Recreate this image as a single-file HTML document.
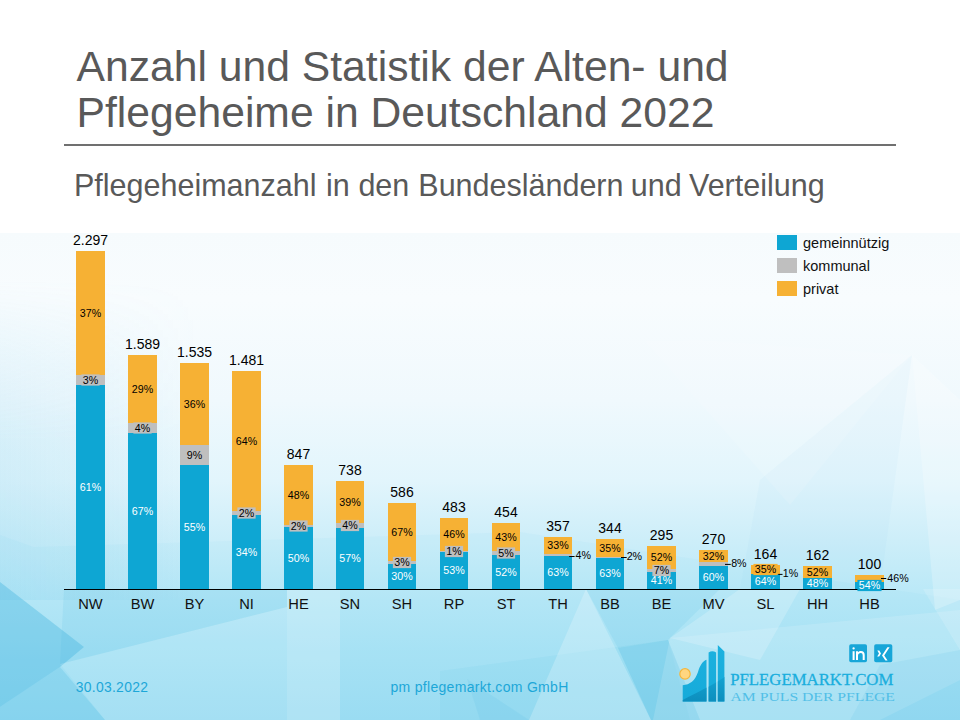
<!DOCTYPE html>
<html><head><meta charset="utf-8"><style>
html,body{margin:0;padding:0;}
body{width:960px;height:720px;overflow:hidden;position:relative;background:#fff;font-family:"Liberation Sans",sans-serif;}
svg{position:absolute;left:0;top:0;}
.tot{font-size:14px;text-anchor:middle;fill:#000;}
.cat{font-size:14.67px;text-anchor:middle;fill:#111;}
.pct{font-size:10.67px;text-anchor:middle;}
.leg{font-size:14.5px;fill:#111;}
.title{font-size:42.67px;fill:#595959;}
.sub{font-size:30.5px;fill:#595959;}
.foot{font-size:13.5px;fill:#1da7d8;}
</style></head><body>
<svg width="960" height="720" viewBox="0 0 960 720">
<defs>
<linearGradient id="bg" gradientUnits="userSpaceOnUse" x1="0" y1="232" x2="0" y2="720">
<stop offset="0" stop-color="#f6fbfd"/>
<stop offset="0.139" stop-color="#f8fcfe"/>
<stop offset="0.344" stop-color="#f0f9fd"/>
<stop offset="0.508" stop-color="#e2f5fc"/>
<stop offset="0.631" stop-color="#cdeef9"/>
<stop offset="0.754" stop-color="#b8e8f7"/>
<stop offset="0.877" stop-color="#a9e3f5"/>
<stop offset="1" stop-color="#9edef3"/>
</linearGradient>
</defs>
<rect x="0" y="0" width="960" height="720" fill="#fff"/>
<rect x="0" y="233" width="960" height="487" fill="url(#bg)"/>
<linearGradient id="lside" x1="0" y1="0" x2="1" y2="0"><stop offset="0" stop-color="#6cc6e8" stop-opacity="0.16"/><stop offset="1" stop-color="#6cc6e8" stop-opacity="0"/></linearGradient>
<linearGradient id="lsidev" x1="0" y1="0" x2="0" y2="1"><stop offset="0" stop-color="#fff" stop-opacity="0"/><stop offset="0.5" stop-color="#fff" stop-opacity="1"/><stop offset="1" stop-color="#fff" stop-opacity="1"/></linearGradient>
<mask id="lmask"><rect x="0" y="280" width="200" height="320" fill="url(#lsidev)"/></mask>
<rect x="0" y="280" width="200" height="320" fill="url(#lside)" mask="url(#lmask)"/>
<polygon points="0,582 84,647 60,667 0,707" fill="#3fb3de" fill-opacity="0.38"/>
<polygon points="0,707 60,667 105,720 0,720" fill="#3fb3de" fill-opacity="0.22"/>
<polygon points="34,547 520,532 960,600 960,720 0,720 0,535" fill="#6cc6e8" fill-opacity="0.06"/>
<polygon points="60,664 287,607 287,589 64,589" fill="#3fb3de" fill-opacity="0.12"/>
<polygon points="287,589 340,589 340,720 287,720" fill="#ffffff" fill-opacity="0.2"/>
<polygon points="60,664 287,607 287,720 105,720" fill="#ffffff" fill-opacity="0.1"/>
<polygon points="440,671 668,640 690,720 440,720" fill="#3fb3de" fill-opacity="0.07"/>
<polygon points="586,589 651,720 529,720" fill="#ffffff" fill-opacity="0.22"/>
<polygon points="618,648 668,640 700,720 651,720" fill="#3fb3de" fill-opacity="0.24"/>
<polygon points="586,589 720,589 668,640 618,648" fill="#3fb3de" fill-opacity="0.12"/>
<polygon points="467,679 529,720 480,720" fill="#3fb3de" fill-opacity="0.1"/>
<polygon points="670,638 740,589 800,589 760,660" fill="#ffffff" fill-opacity="0.2"/>
<polygon points="670,638 960,610 960,680 880,720 653,720" fill="#ffffff" fill-opacity="0.14"/>
<polygon points="880,665 960,650 960,720 850,720" fill="#3fb3de" fill-opacity="0.1"/>
<polygon points="923,589 960,589 960,650" fill="#ffffff" fill-opacity="0.15"/>
<polygon points="912,355 960,400 960,600 935,610" fill="#ffffff" fill-opacity="0.22"/>
<polygon points="912,355 760,480 740,589 880,589" fill="#6cc6e8" fill-opacity="0.05"/>
<polygon points="912,355 700,340 645,341 790,505" fill="#ffffff" fill-opacity="0.12"/>
<text x="76.5" y="80.6" class="title">Anzahl und Statistik der Alten- und</text>
<text x="76.5" y="126.9" class="title">Pflegeheime in Deutschland 2022</text>
<rect x="64" y="144" width="832" height="2" fill="#707070"/>
<g class="sub"><text x="74" y="195.7">Pflegeheimanzahl</text><text x="326" y="195.7">in</text><text x="358.4" y="195.7">den</text><text x="418.3" y="195.7">Bundesländern</text><text x="630.8" y="195.7">und</text><text x="689" y="195.7">Verteilung</text></g>
<rect x="777" y="235" width="20" height="15" fill="#0ea6d3"/>
<rect x="777" y="258" width="20" height="15" fill="#bfbfbf"/>
<rect x="777" y="281" width="20" height="15" fill="#f6b134"/>
<text x="803" y="247.7" class="leg">gemeinnützig</text>
<text x="803" y="270.7" class="leg">kommunal</text>
<text x="803" y="293.7" class="leg">privat</text>
<rect x="64" y="589" width="832" height="1" fill="#000"/>
<rect x="76" y="385" width="29" height="204" fill="#0ea6d3"/>
<rect x="76" y="375" width="29" height="10" fill="#bfbfbf"/>
<rect x="76" y="251" width="29" height="124" fill="#f6b134"/>
<rect x="128" y="433" width="29" height="156" fill="#0ea6d3"/>
<rect x="128" y="423" width="29" height="10" fill="#bfbfbf"/>
<rect x="128" y="355" width="29" height="68" fill="#f6b134"/>
<rect x="180" y="465" width="29" height="124" fill="#0ea6d3"/>
<rect x="180" y="445" width="29" height="20" fill="#bfbfbf"/>
<rect x="180" y="363" width="29" height="82" fill="#f6b134"/>
<rect x="232" y="515" width="29" height="74" fill="#0ea6d3"/>
<rect x="232" y="511" width="29" height="4" fill="#bfbfbf"/>
<rect x="232" y="371" width="29" height="140" fill="#f6b134"/>
<rect x="284" y="527" width="29" height="62" fill="#0ea6d3"/>
<rect x="284" y="525" width="29" height="2" fill="#bfbfbf"/>
<rect x="284" y="465" width="29" height="60" fill="#f6b134"/>
<rect x="336" y="528" width="28" height="61" fill="#0ea6d3"/>
<rect x="336" y="523" width="28" height="5" fill="#bfbfbf"/>
<rect x="336" y="481" width="28" height="42" fill="#f6b134"/>
<rect x="388" y="564" width="28" height="25" fill="#0ea6d3"/>
<rect x="388" y="561" width="28" height="3" fill="#bfbfbf"/>
<rect x="388" y="503" width="28" height="58" fill="#f6b134"/>
<rect x="440" y="552" width="28" height="37" fill="#0ea6d3"/>
<rect x="440" y="551" width="28" height="1" fill="#bfbfbf"/>
<rect x="440" y="518" width="28" height="33" fill="#f6b134"/>
<rect x="492" y="555" width="28" height="34" fill="#0ea6d3"/>
<rect x="492" y="551" width="28" height="4" fill="#bfbfbf"/>
<rect x="492" y="523" width="28" height="28" fill="#f6b134"/>
<rect x="544" y="556" width="28" height="33" fill="#0ea6d3"/>
<rect x="544" y="554" width="28" height="2" fill="#bfbfbf"/>
<rect x="544" y="537" width="28" height="17" fill="#f6b134"/>
<rect x="596" y="558" width="28" height="31" fill="#0ea6d3"/>
<rect x="596" y="557" width="28" height="1" fill="#bfbfbf"/>
<rect x="596" y="539" width="28" height="18" fill="#f6b134"/>
<rect x="647" y="572" width="29" height="17" fill="#0ea6d3"/>
<rect x="647" y="569" width="29" height="3" fill="#bfbfbf"/>
<rect x="647" y="546" width="29" height="23" fill="#f6b134"/>
<rect x="699" y="566" width="29" height="23" fill="#0ea6d3"/>
<rect x="699" y="562" width="29" height="4" fill="#bfbfbf"/>
<rect x="699" y="550" width="29" height="12" fill="#f6b134"/>
<rect x="751" y="574" width="29" height="15" fill="#0ea6d3"/>
<rect x="751" y="565" width="29" height="9" fill="#f6b134"/>
<rect x="803" y="578" width="29" height="11" fill="#0ea6d3"/>
<rect x="803" y="566" width="29" height="12" fill="#f6b134"/>
<rect x="855" y="582" width="29" height="7" fill="#0ea6d3"/>
<rect x="855" y="575" width="29" height="7" fill="#f6b134"/>
<text x="90.5" y="245.2" class="tot">2.297</text>
<text x="90.5" y="609.4" class="cat">NW</text>
<rect x="78.42" y="481.4" width="24.15" height="11.2" fill="#0ea6d3"/>
<text x="90.5" y="490.8" class="pct" fill="#ffffff">61%</text>
<rect x="81.39" y="374.4" width="18.22" height="11.2" fill="#bfbfbf"/>
<text x="90.5" y="383.8" class="pct" fill="#000">3%</text>
<rect x="78.42" y="307.4" width="24.15" height="11.2" fill="#f6b134"/>
<text x="90.5" y="316.8" class="pct" fill="#000">37%</text>
<text x="142.5" y="349.2" class="tot">1.589</text>
<text x="142.5" y="609.4" class="cat">BW</text>
<rect x="130.42" y="505.4" width="24.15" height="11.2" fill="#0ea6d3"/>
<text x="142.5" y="514.8" class="pct" fill="#ffffff">67%</text>
<rect x="133.39" y="422.4" width="18.22" height="11.2" fill="#bfbfbf"/>
<text x="142.5" y="431.8" class="pct" fill="#000">4%</text>
<rect x="130.42" y="383.4" width="24.15" height="11.2" fill="#f6b134"/>
<text x="142.5" y="392.8" class="pct" fill="#000">29%</text>
<text x="194.5" y="357.2" class="tot">1.535</text>
<text x="194.5" y="609.4" class="cat">BY</text>
<rect x="182.42" y="521.4" width="24.15" height="11.2" fill="#0ea6d3"/>
<text x="194.5" y="530.8" class="pct" fill="#ffffff">55%</text>
<rect x="185.39" y="449.4" width="18.22" height="11.2" fill="#bfbfbf"/>
<text x="194.5" y="458.8" class="pct" fill="#000">9%</text>
<rect x="182.42" y="398.4" width="24.15" height="11.2" fill="#f6b134"/>
<text x="194.5" y="407.8" class="pct" fill="#000">36%</text>
<text x="246.5" y="365.2" class="tot">1.481</text>
<text x="246.5" y="609.4" class="cat">NI</text>
<rect x="234.42" y="546.4" width="24.15" height="11.2" fill="#0ea6d3"/>
<text x="246.5" y="555.8" class="pct" fill="#ffffff">34%</text>
<rect x="237.39" y="507.4" width="18.22" height="11.2" fill="#bfbfbf"/>
<text x="246.5" y="516.8" class="pct" fill="#000">2%</text>
<rect x="234.42" y="435.4" width="24.15" height="11.2" fill="#f6b134"/>
<text x="246.5" y="444.8" class="pct" fill="#000">64%</text>
<text x="298.5" y="459.2" class="tot">847</text>
<text x="298.5" y="609.4" class="cat">HE</text>
<rect x="286.42" y="552.4" width="24.15" height="11.2" fill="#0ea6d3"/>
<text x="298.5" y="561.8" class="pct" fill="#ffffff">50%</text>
<rect x="289.39" y="520.4" width="18.22" height="11.2" fill="#bfbfbf"/>
<text x="298.5" y="529.8" class="pct" fill="#000">2%</text>
<rect x="286.42" y="489.4" width="24.15" height="11.2" fill="#f6b134"/>
<text x="298.5" y="498.8" class="pct" fill="#000">48%</text>
<text x="350" y="475.2" class="tot">738</text>
<text x="350" y="609.4" class="cat">SN</text>
<rect x="337.92" y="552.9" width="24.15" height="11.2" fill="#0ea6d3"/>
<text x="350" y="562.3" class="pct" fill="#ffffff">57%</text>
<rect x="340.89" y="519.9" width="18.22" height="11.2" fill="#bfbfbf"/>
<text x="350" y="529.3" class="pct" fill="#000">4%</text>
<rect x="337.92" y="496.4" width="24.15" height="11.2" fill="#f6b134"/>
<text x="350" y="505.8" class="pct" fill="#000">39%</text>
<text x="402" y="497.2" class="tot">586</text>
<text x="402" y="609.4" class="cat">SH</text>
<rect x="389.92" y="570.9" width="24.15" height="11.2" fill="#0ea6d3"/>
<text x="402" y="580.3" class="pct" fill="#ffffff">30%</text>
<rect x="392.89" y="556.9" width="18.22" height="11.2" fill="#bfbfbf"/>
<text x="402" y="566.3" class="pct" fill="#000">3%</text>
<rect x="389.92" y="526.4" width="24.15" height="11.2" fill="#f6b134"/>
<text x="402" y="535.8" class="pct" fill="#000">67%</text>
<text x="454" y="512.2" class="tot">483</text>
<text x="454" y="609.4" class="cat">RP</text>
<rect x="441.92" y="564.9" width="24.15" height="11.2" fill="#0ea6d3"/>
<text x="454" y="574.3" class="pct" fill="#ffffff">53%</text>
<rect x="444.89" y="545.9" width="18.22" height="11.2" fill="#bfbfbf"/>
<text x="454" y="555.3" class="pct" fill="#000">1%</text>
<rect x="441.92" y="528.9" width="24.15" height="11.2" fill="#f6b134"/>
<text x="454" y="538.3" class="pct" fill="#000">46%</text>
<text x="506" y="517.2" class="tot">454</text>
<text x="506" y="609.4" class="cat">ST</text>
<rect x="493.92" y="566.4" width="24.15" height="11.2" fill="#0ea6d3"/>
<text x="506" y="575.8" class="pct" fill="#ffffff">52%</text>
<rect x="496.89" y="547.4" width="18.22" height="11.2" fill="#bfbfbf"/>
<text x="506" y="556.8" class="pct" fill="#000">5%</text>
<rect x="493.92" y="531.4" width="24.15" height="11.2" fill="#f6b134"/>
<text x="506" y="540.8" class="pct" fill="#000">43%</text>
<text x="558" y="531.2" class="tot">357</text>
<text x="558" y="609.4" class="cat">TH</text>
<rect x="545.92" y="566.9" width="24.15" height="11.2" fill="#0ea6d3"/>
<text x="558" y="576.3" class="pct" fill="#ffffff">63%</text>
<line x1="569.2" y1="556.5" x2="574.6" y2="556.5" stroke="#000" stroke-width="1"/>
<text x="575.5" y="558.75" class="pct" fill="#000" style="text-anchor:start">4%</text>
<rect x="545.92" y="539.9" width="24.15" height="11.2" fill="#f6b134"/>
<text x="558" y="549.3" class="pct" fill="#000">33%</text>
<text x="610" y="533.2" class="tot">344</text>
<text x="610" y="609.4" class="cat">BB</text>
<rect x="597.92" y="567.9" width="24.15" height="11.2" fill="#0ea6d3"/>
<text x="610" y="577.3" class="pct" fill="#ffffff">63%</text>
<line x1="621" y1="557.5" x2="626.7" y2="557.5" stroke="#000" stroke-width="1"/>
<text x="626.7" y="559.6" class="pct" fill="#000" style="text-anchor:start">2%</text>
<rect x="597.92" y="542.4" width="24.15" height="11.2" fill="#f6b134"/>
<text x="610" y="551.8" class="pct" fill="#000">35%</text>
<text x="661.5" y="540.2" class="tot">295</text>
<text x="661.5" y="609.4" class="cat">BE</text>
<rect x="649.42" y="574.9" width="24.15" height="11.2" fill="#0ea6d3"/>
<text x="661.5" y="584.3" class="pct" fill="#ffffff">41%</text>
<rect x="652.39" y="564.9" width="18.22" height="11.2" fill="#bfbfbf"/>
<text x="661.5" y="574.3" class="pct" fill="#000">7%</text>
<rect x="649.42" y="551.9" width="24.15" height="11.2" fill="#f6b134"/>
<text x="661.5" y="561.3" class="pct" fill="#000">52%</text>
<text x="713.5" y="544.2" class="tot">270</text>
<text x="713.5" y="609.4" class="cat">MV</text>
<rect x="701.42" y="571.9" width="24.15" height="11.2" fill="#0ea6d3"/>
<text x="713.5" y="581.3" class="pct" fill="#ffffff">60%</text>
<line x1="725" y1="564.4" x2="730.8" y2="564.4" stroke="#000" stroke-width="1"/>
<text x="731.2" y="566.7" class="pct" fill="#000" style="text-anchor:start">8%</text>
<rect x="701.42" y="550.4" width="24.15" height="11.2" fill="#f6b134"/>
<text x="713.5" y="559.8" class="pct" fill="#000">32%</text>
<text x="765.5" y="559.2" class="tot">164</text>
<text x="765.5" y="609.4" class="cat">SL</text>
<rect x="753.42" y="575.9" width="24.15" height="11.2" fill="#0ea6d3"/>
<text x="765.5" y="585.3" class="pct" fill="#ffffff">64%</text>
<line x1="778.3" y1="574.4" x2="782.5" y2="574.4" stroke="#000" stroke-width="1"/>
<text x="782.8" y="576.7" class="pct" fill="#000" style="text-anchor:start">1%</text>
<rect x="753.42" y="563.9" width="24.15" height="11.2" fill="#f6b134"/>
<text x="765.5" y="573.3" class="pct" fill="#000">35%</text>
<text x="817.5" y="560.2" class="tot">162</text>
<text x="817.5" y="609.4" class="cat">HH</text>
<rect x="805.42" y="577.9" width="24.15" height="11.2" fill="#0ea6d3"/>
<text x="817.5" y="587.3" class="pct" fill="#ffffff">48%</text>
<rect x="805.42" y="566.4" width="24.15" height="11.2" fill="#f6b134"/>
<text x="817.5" y="575.8" class="pct" fill="#000">52%</text>
<text x="869.5" y="569.2" class="tot">100</text>
<text x="869.5" y="609.4" class="cat">HB</text>
<rect x="857.42" y="579.9" width="24.15" height="11.2" fill="#0ea6d3"/>
<text x="869.5" y="589.3" class="pct" fill="#ffffff">54%</text>
<line x1="881" y1="578.5" x2="886.25" y2="578.5" stroke="#000" stroke-width="1"/>
<text x="887.3" y="581.7" class="pct" fill="#000" style="text-anchor:start">46%</text>
<text x="75.7" y="691.7" class="foot" style="letter-spacing:0.3px;font-size:13.9px">30.03.2022</text>
<text x="390.5" y="691.9" class="foot" style="letter-spacing:0.3px;font-size:14px">pm pflegemarkt.com GmbH</text>
<defs>
<linearGradient id="lg" x1="0" y1="0" x2="0" y2="1">
<stop offset="0" stop-color="#1cb2e0"/><stop offset="1" stop-color="#16aad9"/>
</linearGradient>
<linearGradient id="ldark" x1="0" y1="0" x2="0" y2="1">
<stop offset="0" stop-color="#14a3d2"/><stop offset="1" stop-color="#0c8cbb"/>
</linearGradient>
<clipPath id="logoclip"><path d="M682.7,701.4 L682.7,685.3 C690,684.5 695,681 698,672 C700,665 703,661 706.5,659.7 L706.5,701.4 Z M708.6,701.4 L708.6,652.5 Q712.3,650 716.1,652.5 L716.1,701.4 Z M717.8,701.4 L717.8,645 L724.4,651.5 L724.4,701.4 Z"/></clipPath>
</defs>
<g clip-path="url(#logoclip)">
<rect x="680" y="640" width="48" height="64" fill="url(#lg)"/>
<path d="M680,701.5 C695,693 712,686 726,676 L726,704 L680,704 Z" fill="url(#ldark)"/>
</g>
<circle cx="685" cy="673.9" r="5.2" fill="#ffd680" stroke="#f5b63a" stroke-width="1.2"/>
<text transform="translate(730.2 685) scale(0.964 1)" x="0" y="0" style="font-family:'Liberation Serif',serif;font-size:17.4px;fill:#1aaedd;stroke:#1aaedd;stroke-width:0.3px">PFLEGEMARKT.COM</text>
<text transform="translate(730.5 701.3) scale(1.19 1)" x="0" y="0" style="font-family:'Liberation Serif',serif;font-size:13.2px;fill:#52bfe7">AM PULS DER PFLEGE</text>
<rect x="849.2" y="644.2" width="17.8" height="18.1" rx="1.8" fill="#17a6d8"/>
<rect x="852.6" y="651.2" width="2" height="8.8" fill="#fff"/>
<circle cx="853.6" cy="648.4" r="1.15" fill="#fff"/>
<path d="M856,660 L856,651.2 L858,651.2 L858,652.3 C858.8,651.3 859.8,651 861,651 C863.3,651 864.7,652.3 864.7,655 L864.7,660 L862.7,660 L862.7,655.5 C862.7,653.8 862,653 860.8,653 C859.2,653 858,654 858,655.8 L858,660 Z" fill="#fff"/>
<rect x="874.2" y="644.2" width="18.1" height="18.1" rx="1.8" fill="#17a6d8"/>
<path d="M877.3,650.5 L879.3,650.5 L881,653.4 L879.2,656.5 L877.2,656.5 L879,653.4 Z" fill="#fff"/>
<path d="M887.4,647.3 L889.6,647.3 L884.2,655.6 L887.6,660.5 L885.4,660.5 L882,655.6 Z" fill="#fff"/>
</svg>
</body></html>
